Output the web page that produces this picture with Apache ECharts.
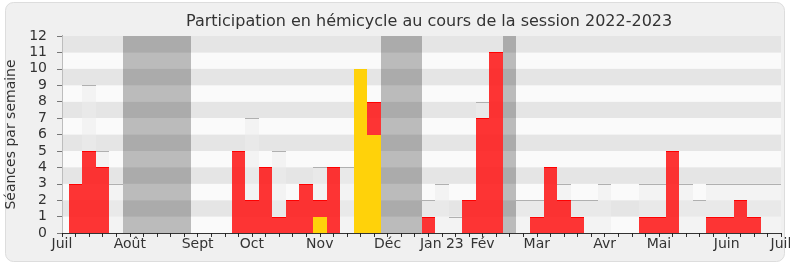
<!DOCTYPE html>
<html>
<head>
<meta charset="utf-8">
<script src="https://cdn.jsdelivr.net/npm/echarts@6/dist/echarts.min.js"></script>
<style>
  html, body { margin: 0; padding: 0; background: #ffffff; }
  #c { width: 790px; height: 267px; }
</style>
</head>
<body>
<div id="c"></div>
<script>
// ---- Data (week index 0..53, week k centred on tick k) ----
const monthTickWeeks = [0, 5, 10, 14, 19, 24, 28, 31, 35, 40, 44, 49, 53];
const monthLabels = ['Juil', 'Août', 'Sept', 'Oct', 'Nov', 'Déc', 'Jan 23', 'Fév', 'Mar', 'Avr', 'Mai', 'Juin', 'Juil'];
const yTicks = [0, 1, 2, 3, 4, 5, 6, 7, 8, 9, 10, 11, 12];

// total sittings of the week (grey bars)
const totalSeances = [0, 3, 9, 5, 3, 0, 0, 0, 0, 0, 0, 0, 0,
  5, 7, 4, 5, 2, 3, 4, 4, 4, 10, 8,
  0, 0, 0,
  2, 3, 1, 2, 8, 11,
  0,
  2, 2, 4, 3, 2, 2, 3,
  0, 0,
  3, 3, 5, 3, 2, 3, 3, 3, 3, 3, 3];
// yellow part
const yellowValues = [0, 0, 0, 0, 0, 0, 0, 0, 0, 0, 0, 0, 0,
  0, 0, 0, 0, 0, 0, 1, 0, 0, 10, 6,
  0, 0, 0,
  0, 0, 0, 0, 0, 0,
  0,
  0, 0, 0, 0, 0, 0, 0,
  0, 0,
  0, 0, 0, 0, 0, 0, 0, 0, 0, 0, 0];
// red part (stacked on yellow)
const redValues = [0, 3, 5, 4, 0, 0, 0, 0, 0, 0, 0, 0, 0,
  5, 2, 4, 1, 2, 3, 1, 4, 0, 0, 2,
  0, 0, 0,
  1, 0, 0, 2, 7, 11,
  0,
  0, 1, 4, 2, 1, 0, 0,
  0, 0,
  1, 1, 5, 0, 0, 1, 1, 2, 1, 0, 0];
// holiday weeks (shaded)
const vacationWeeks = [5, 6, 7, 8, 9, 24, 25, 26, 33];

const FONT = 'DejaVu Sans';
const TXT = '#333333';

function makeRender(fill, lineColor, lineWidth) {
  return function (params, api) {
    const k = api.value(0), lo = api.value(1), hi = api.value(2);
    if (!(hi > lo)) return null;
    const a = api.coord([k - 0.5, hi]);
    const b = api.coord([k + 0.5, lo]);
    const cs = params.coordSys;
    const x0 = Math.round(Math.max(a[0], cs.x));
    const x1 = Math.round(Math.min(b[0], cs.x + cs.width));
    const y0 = Math.round(a[1]);
    const y1 = Math.round(b[1]);
    if (x1 <= x0) return null;
    const children = [{
      type: 'rect',
      shape: { x: x0, y: y0, width: x1 - x0, height: y1 - y0 },
      style: { fill: fill }
    }];
    if (lineColor) {
      children.push({
        type: 'rect',
        shape: { x: x0, y: y0, width: x1 - x0, height: lineWidth },
        style: { fill: lineColor }
      });
    }
    return { type: 'group', children: children };
  };
}

const chart = echarts.init(document.getElementById('c'), null, { renderer: 'canvas' });

const option = {
  animation: false,
  backgroundColor: '#ffffff',
  graphic: [{
    type: 'rect',
    z: -100,
    shape: { x: 5.5, y: 2.5, width: 779, height: 259, r: 8 },
    style: { fill: '#f0f0f0', stroke: '#dddddd', lineWidth: 1 },
    silent: true
  }],
  title: {
    text: 'Participation en hémicycle au cours de la session 2022-2023',
    left: 181,
    top: 9,
    textStyle: { fontFamily: FONT, fontSize: 16, fontWeight: 'normal', color: TXT }
  },
  grid: { left: 62, right: 9, top: 36, bottom: 34, containLabel: false, outerBoundsMode: 'none' },
  xAxis: [{
    type: 'value',
    min: 0, max: 53, interval: 1,
    position: 'bottom',
    axisLine: { show: true, lineStyle: { color: '#333', width: 1 } },
    axisTick: { show: true, inside: false, length: 4, lineStyle: { color: '#333' } },
    axisLabel: {
      show: true, margin: 4, fontFamily: FONT, fontSize: 14, color: TXT,
      showMinLabel: true, showMaxLabel: true,
      formatter: function (v) {
        const i = monthTickWeeks.indexOf(Math.round(v));
        return i >= 0 ? monthLabels[i] : '';
      }
    },
    splitLine: { show: false }
  }, {
    type: 'value',
    min: 0, max: 53, interval: 1,
    position: 'top',
    axisLine: { show: false },
    axisTick: { show: true, inside: true, length: 2, lineStyle: { color: '#222' } },
    axisLabel: { show: false },
    splitLine: { show: false }
  }],
  yAxis: [{
    type: 'value',
    min: yTicks[0], max: yTicks[yTicks.length - 1], interval: 1,
    name: 'Séances par semaine',
    nameLocation: 'middle',
    nameGap: 42,
    nameTextStyle: { fontFamily: FONT, fontSize: 14, color: TXT },
    axisLine: { show: true, lineStyle: { color: '#333', width: 1 } },
    axisTick: { show: true, inside: false, length: 5, lineStyle: { color: '#777' } },
    axisLabel: { margin: 15, fontFamily: FONT, fontSize: 14, color: TXT },
    splitLine: { show: false },
    splitArea: { show: true, areaStyle: { color: ['#fafafa', '#e5e5e5'] } }
  }, {
    type: 'value',
    min: 0, max: 12, interval: 1,
    position: 'right',
    axisLine: { show: true, lineStyle: { color: '#bdbdbd', width: 1 } },
    axisTick: { show: false },
    axisLabel: { show: false },
    splitLine: { show: false },
    splitArea: { show: false }
  }],
  series: [{
    name: 'vacances',
    type: 'custom',
    coordinateSystem: 'cartesian2d',
    xAxisIndex: 0, yAxisIndex: 0,
    renderItem: makeRender('rgba(0,0,0,0.25)', null, 0),
    data: vacationWeeks.map(k => [k, 0, 12]),
    z: 2, silent: true
  }, {
    name: 'total',
    type: 'custom',
    coordinateSystem: 'cartesian2d',
    xAxisIndex: 0, yAxisIndex: 0,
    renderItem: makeRender('rgba(236,236,236,0.55)', '#b0b0b0', 1),
    data: totalSeances.map((v, k) => [k, 0, v]),
    z: 3, silent: true
  }, {
    name: 'jaune',
    type: 'custom',
    coordinateSystem: 'cartesian2d',
    xAxisIndex: 0, yAxisIndex: 0,
    renderItem: makeRender('rgba(255,208,0,0.96)', null, 0),
    data: yellowValues.map((v, k) => [k, 0, v]),
    z: 4, silent: true
  }, {
    name: 'rouge',
    type: 'custom',
    coordinateSystem: 'cartesian2d',
    xAxisIndex: 0, yAxisIndex: 0,
    renderItem: makeRender('rgba(255,0,0,0.79)', '#ff0000', 1),
    data: redValues.map((v, k) => [k, yellowValues[k], yellowValues[k] + v]),
    z: 5, silent: true
  }]
};

chart.setOption(option);
</script>
</body>
</html>
